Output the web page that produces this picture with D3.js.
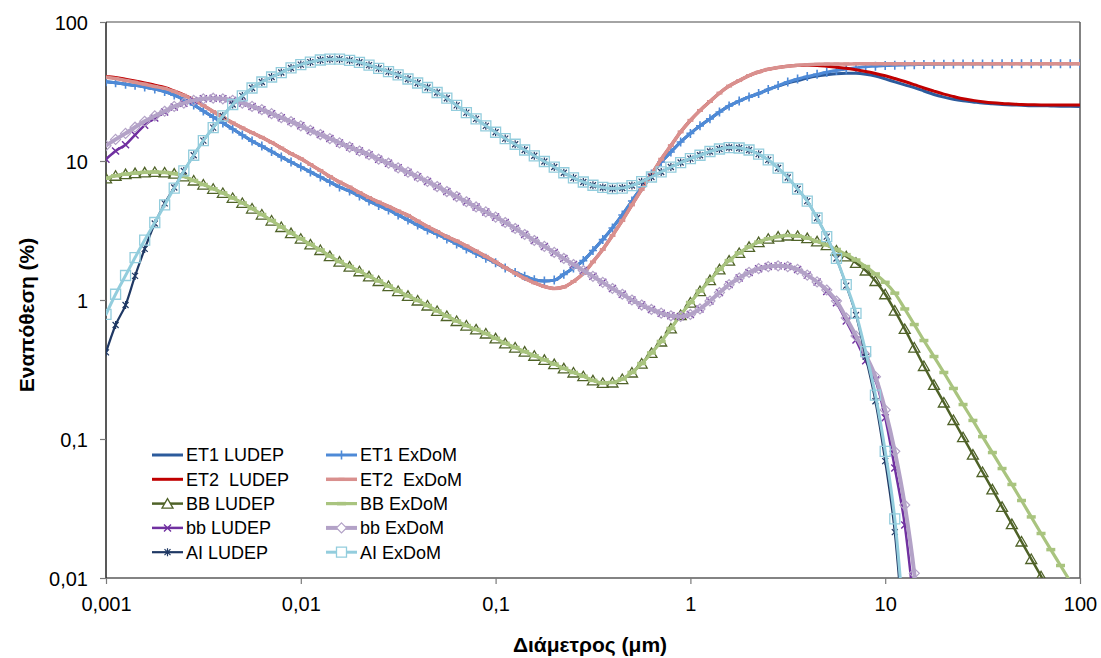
<!DOCTYPE html>
<html>
<head>
<meta charset="utf-8">
<script src="https://cdn.jsdelivr.net/npm/d3@7"></script>
<style>
  body { margin: 0; background: #ffffff; }
  text { font-family: "Liberation Sans", Arial, sans-serif; fill: #000; }
</style>
</head>
<body>
<svg id="chart" width="1101" height="658"></svg>
<script>
// Particle diameters (µm), 20 points per decade
const diameters = [
  1.00e-3, 1.12e-3, 1.26e-3, 1.41e-3, 1.58e-3, 1.78e-3, 2.00e-3, 2.24e-3, 2.51e-3, 2.82e-3,
  3.16e-3, 3.55e-3, 3.98e-3, 4.47e-3, 5.01e-3, 5.62e-3, 6.31e-3, 7.08e-3, 7.94e-3, 8.91e-3,
  1.00e-2, 1.12e-2, 1.26e-2, 1.41e-2, 1.58e-2, 1.78e-2, 2.00e-2, 2.24e-2, 2.51e-2, 2.82e-2,
  3.16e-2, 3.55e-2, 3.98e-2, 4.47e-2, 5.01e-2, 5.62e-2, 6.31e-2, 7.08e-2, 7.94e-2, 8.91e-2,
  1.00e-1, 1.12e-1, 1.26e-1, 1.41e-1, 1.58e-1, 1.78e-1, 2.00e-1, 2.24e-1, 2.51e-1, 2.82e-1,
  3.16e-1, 3.55e-1, 3.98e-1, 4.47e-1, 5.01e-1, 5.62e-1, 6.31e-1, 7.08e-1, 7.94e-1, 8.91e-1,
  1.00, 1.12, 1.26, 1.41, 1.58, 1.78, 2.00, 2.24, 2.51, 2.82,
  3.16, 3.55, 3.98, 4.47, 5.01, 5.62, 6.31, 7.08, 7.94, 8.91,
  10.0, 11.2, 12.6, 14.1, 15.8, 17.8, 20.0, 22.4, 25.1, 28.2,
  31.6, 35.5, 39.8, 44.7, 50.1, 56.2, 63.1, 70.8, 79.4, 89.1,
  100
];

// Regional deposition (%)
const et1Ludep = [
  37.2, 36.5, 35.7, 35.0, 34.1, 32.9, 31.6, 29.8, 27.7, 25.3,
  22.9, 20.7, 18.8, 17.0, 15.4, 13.9, 12.8, 11.7, 10.7, 9.84,
  9.05, 8.34, 7.67, 7.06, 6.50, 6.08, 5.60, 5.15, 4.79, 4.44,
  4.09, 3.76, 3.46, 3.19, 2.98, 2.75, 2.53, 2.33, 2.16, 2.00,
  1.85, 1.70, 1.58, 1.48, 1.40, 1.37, 1.39, 1.53, 1.70, 1.92,
  2.27, 2.72, 3.30, 4.09, 5.15, 6.50, 8.06, 9.84, 11.6, 13.7,
  15.8, 17.9, 20.1, 22.5, 24.9, 27.0, 28.9, 30.6, 32.7, 34.6,
  36.4, 37.9, 39.6, 40.9, 41.7, 42.4, 42.7, 42.7, 42.1, 40.9,
  39.0, 37.1, 35.3, 33.7, 31.9, 30.1, 28.8, 27.8, 27.1, 26.6,
  26.1, 25.8, 25.5, 25.3, 25.2, 25.0, 25.0, 24.9, 24.8, 24.8, 24.7
];
const et1Exdom = [
  37.2, 36.5, 35.7, 35.0, 34.1, 32.9, 31.6, 29.8, 27.7, 25.3,
  22.9, 20.7, 18.8, 17.0, 15.4, 13.9, 12.8, 11.7, 10.7, 9.84,
  9.05, 8.34, 7.67, 7.06, 6.50, 6.08, 5.60, 5.15, 4.79, 4.44,
  4.09, 3.76, 3.46, 3.19, 2.98, 2.75, 2.53, 2.33, 2.16, 2.00,
  1.85, 1.70, 1.58, 1.48, 1.40, 1.37, 1.39, 1.53, 1.70, 1.92,
  2.27, 2.72, 3.30, 4.09, 5.15, 6.50, 8.06, 9.84, 11.6, 13.7,
  15.8, 17.9, 20.1, 22.5, 24.9, 27.0, 28.9, 30.6, 32.7, 34.9,
  37.0, 38.9, 40.5, 42.0, 43.5, 44.8, 45.9, 46.8, 47.6, 48.1,
  48.6, 48.9, 49.1, 49.3, 49.5, 49.6, 49.7, 49.8, 49.8, 49.9,
  49.9, 49.9, 50.0, 50.0, 50.0, 50.0, 50.0, 50.0, 50.0, 50.0, 50.0
];
const et2Ludep = [
  40.6, 39.9, 38.8, 37.7, 36.5, 35.1, 33.8, 31.9, 29.9, 27.6,
  25.1, 22.7, 20.6, 18.8, 17.3, 16.0, 14.8, 13.6, 12.4, 11.3,
  10.4, 9.44, 8.55, 7.74, 7.06, 6.50, 5.93, 5.46, 5.07, 4.71,
  4.37, 4.06, 3.70, 3.38, 3.11, 2.86, 2.66, 2.45, 2.25, 2.06,
  1.88, 1.71, 1.56, 1.43, 1.33, 1.25, 1.21, 1.24, 1.36, 1.55,
  1.88, 2.31, 2.91, 3.73, 4.83, 6.24, 8.00, 10.3, 12.9, 16.2,
  19.6, 23.1, 26.8, 30.8, 34.6, 37.9, 41.2, 43.7, 45.7, 47.1,
  48.1, 48.6, 48.8, 48.6, 48.0, 47.3, 46.5, 45.3, 44.0, 42.6,
  41.0, 39.2, 37.3, 35.4, 33.5, 31.8, 30.3, 29.1, 28.0, 27.3,
  26.7, 26.2, 25.9, 25.7, 25.5, 25.4, 25.3, 25.3, 25.3, 25.3, 25.3
];
const et2Exdom = [
  40.0, 39.2, 38.0, 36.9, 35.7, 34.4, 33.3, 31.6, 29.7, 27.5,
  25.1, 22.7, 20.6, 18.8, 17.3, 16.0, 14.8, 13.6, 12.4, 11.3,
  10.4, 9.44, 8.55, 7.74, 7.06, 6.50, 5.93, 5.46, 5.07, 4.71,
  4.37, 4.06, 3.70, 3.38, 3.11, 2.86, 2.66, 2.45, 2.25, 2.06,
  1.88, 1.71, 1.56, 1.43, 1.33, 1.25, 1.21, 1.24, 1.36, 1.55,
  1.88, 2.31, 2.91, 3.73, 4.83, 6.24, 8.00, 10.3, 12.9, 16.2,
  19.6, 23.1, 26.8, 30.8, 34.6, 37.9, 41.2, 43.7, 45.7, 47.1,
  48.1, 48.9, 49.3, 49.6, 49.8, 49.9, 49.9, 50.0, 50.0, 50.0,
  50.0, 50.0, 50.0, 50.0, 50.0, 50.0, 50.0, 50.0, 50.0, 50.0,
  50.0, 50.0, 50.0, 50.0, 50.0, 50.0, 50.0, 50.0, 50.0, 50.0, 50.0
];
const bbLudep = [
  7.51, 7.83, 8.04, 8.18, 8.29, 8.34, 8.27, 8.12, 7.74, 7.24,
  6.77, 6.31, 5.89, 5.42, 4.99, 4.55, 4.12, 3.73, 3.35, 3.03,
  2.76, 2.51, 2.29, 2.07, 1.89, 1.74, 1.61, 1.48, 1.37, 1.26,
  1.16, 1.07, 0.992, 0.913, 0.834, 0.767, 0.706, 0.655, 0.614, 0.574,
  0.530, 0.488, 0.455, 0.425, 0.397, 0.371, 0.346, 0.322, 0.301, 0.283,
  0.264, 0.253, 0.255, 0.270, 0.301, 0.349, 0.416, 0.503, 0.624, 0.780,
  0.959, 1.16, 1.39, 1.66, 1.92, 2.18, 2.41, 2.61, 2.76, 2.86,
  2.91, 2.89, 2.79, 2.64, 2.48, 2.27, 2.06, 1.85, 1.63, 1.37,
  1.10, 0.840, 0.619, 0.455, 0.335, 0.245, 0.183, 0.137, 0.103, 0.0772,
  0.0579, 0.0434, 0.0325, 0.0244, 0.0183, 0.0137, 0.0103, 0.0077, 0.0058, 0.0043, 0.0032
];
const bbExdom = [
  7.51, 7.83, 8.04, 8.18, 8.29, 8.34, 8.27, 8.12, 7.74, 7.24,
  6.77, 6.31, 5.89, 5.42, 4.99, 4.55, 4.12, 3.73, 3.35, 3.03,
  2.76, 2.51, 2.29, 2.07, 1.89, 1.74, 1.61, 1.48, 1.37, 1.26,
  1.16, 1.07, 0.992, 0.913, 0.834, 0.767, 0.706, 0.655, 0.614, 0.574,
  0.530, 0.488, 0.455, 0.425, 0.397, 0.371, 0.346, 0.322, 0.301, 0.283,
  0.264, 0.253, 0.255, 0.270, 0.301, 0.349, 0.416, 0.503, 0.624, 0.780,
  0.959, 1.16, 1.39, 1.66, 1.92, 2.18, 2.41, 2.61, 2.76, 2.86,
  2.91, 2.89, 2.79, 2.64, 2.49, 2.31, 2.12, 1.94, 1.74, 1.54,
  1.34, 1.12, 0.862, 0.666, 0.511, 0.392, 0.301, 0.231, 0.177, 0.136,
  0.104, 0.0799, 0.0613, 0.0471, 0.0361, 0.0275, 0.0209, 0.0160, 0.0123, 0.00944, 0.00724
];
const bbSmallLudep = [
  10.3, 11.8, 13.1, 15.4, 18.1, 20.4, 22.5, 24.5, 26.0, 27.2,
  28.0, 28.3, 28.0, 27.3, 26.1, 24.7, 23.4, 21.9, 20.5, 19.2,
  17.9, 16.6, 15.5, 14.5, 13.5, 12.6, 11.8, 11.1, 10.3, 9.64,
  8.93, 8.31, 7.71, 7.12, 6.55, 6.03, 5.55, 5.09, 4.67, 4.30,
  3.95, 3.61, 3.27, 2.96, 2.68, 2.43, 2.20, 1.99, 1.80, 1.63,
  1.48, 1.34, 1.21, 1.10, 1.00, 0.920, 0.855, 0.804, 0.770, 0.761,
  0.787, 0.862, 0.984, 1.13, 1.29, 1.44, 1.58, 1.68, 1.74, 1.76,
  1.74, 1.66, 1.51, 1.35, 1.15, 0.955, 0.705, 0.515, 0.365, 0.266,
  0.142, 0.0618, 0.0241, 0.006, null, null, null, null, null, null,
  null, null, null, null, null, null, null, null, null, null, null
];
const bbSmallExdom = [
  12.9, 14.3, 15.8, 17.5, 19.3, 21.1, 22.8, 24.7, 26.1, 27.3,
  28.0, 28.3, 28.0, 27.3, 26.1, 24.7, 23.4, 21.9, 20.5, 19.2,
  17.9, 16.6, 15.5, 14.5, 13.5, 12.6, 11.8, 11.1, 10.3, 9.64,
  8.93, 8.31, 7.71, 7.12, 6.55, 6.03, 5.55, 5.09, 4.67, 4.30,
  3.95, 3.61, 3.27, 2.96, 2.68, 2.43, 2.20, 1.99, 1.80, 1.63,
  1.48, 1.34, 1.21, 1.10, 1.00, 0.920, 0.855, 0.804, 0.770, 0.761,
  0.787, 0.862, 0.984, 1.13, 1.29, 1.44, 1.58, 1.68, 1.74, 1.76,
  1.74, 1.66, 1.51, 1.35, 1.18, 0.984, 0.742, 0.551, 0.402, 0.281,
  0.162, 0.0815, 0.0335, 0.0108, 0.002, null, null, null, null, null,
  null, null, null, null, null, null, null, null, null, null, null
];
const aiLudep = [
  0.420, 0.661, 0.920, 1.49, 2.33, 3.55, 4.95, 6.45, 8.48, 11.0,
  14.0, 17.4, 21.1, 25.5, 29.4, 33.5, 37.0, 40.2, 43.3, 46.7,
  49.4, 51.5, 53.3, 54.0, 54.0, 53.0, 51.3, 48.9, 46.4, 44.0,
  41.6, 38.9, 36.4, 33.8, 31.1, 28.3, 25.1, 22.3, 20.1, 17.9,
  16.1, 14.5, 13.2, 12.0, 10.9, 9.92, 9.05, 8.23, 7.57, 7.06,
  6.69, 6.45, 6.34, 6.39, 6.66, 7.10, 7.67, 8.34, 9.05, 9.75,
  10.4, 11.0, 11.7, 12.2, 12.5, 12.4, 12.0, 11.2, 10.2, 8.90,
  7.61, 6.29, 5.15, 3.89, 2.86, 1.99, 1.27, 0.780, 0.390, 0.187,
  0.0694, 0.0214, 0.003, null, null, null, null, null, null, null,
  null, null, null, null, null, null, null, null, null, null, null
];
const aiExdom = [
  0.789, 1.10, 1.50, 2.02, 2.70, 3.61, 4.83, 6.39, 8.48, 11.0,
  14.0, 17.4, 21.1, 25.5, 29.4, 33.5, 37.0, 40.2, 43.3, 46.7,
  49.4, 51.5, 53.3, 54.0, 54.0, 53.0, 51.3, 48.9, 46.4, 44.0,
  41.6, 38.9, 36.4, 33.8, 31.1, 28.3, 25.1, 22.3, 20.1, 17.9,
  16.1, 14.5, 13.2, 12.0, 10.9, 9.92, 9.05, 8.23, 7.57, 7.06,
  6.69, 6.45, 6.34, 6.39, 6.66, 7.10, 7.67, 8.34, 9.05, 9.75,
  10.4, 11.0, 11.7, 12.2, 12.5, 12.4, 12.0, 11.2, 10.2, 8.90,
  7.61, 6.29, 5.15, 3.89, 2.86, 1.99, 1.29, 0.802, 0.425, 0.207,
  0.0815, 0.0266, 0.004, null, null, null, null, null, null, null,
  null, null, null, null, null, null, null, null, null, null, null
];

// Axis ticks
const xTicks = [0.001, 0.01, 0.1, 1, 10, 100];
const xTickLabels = ["0,001", "0,01", "0,1", "1", "10", "100"];
const yTicks = [0.01, 0.1, 1, 10, 100];
const yTickLabels = ["0,01", "0,1", "1", "10", "100"];

const series = [
  { name: "ET1 LUDEP",  values: et1Ludep,     color: "#2C5B9C", width: 3,   marker: null },
  { name: "ET1 ExDoM",  values: et1Exdom,     color: "#4E8AD7", width: 3,   marker: "plus" },
  { name: "ET2  LUDEP", values: et2Ludep,     color: "#C00000", width: 3,   marker: null },
  { name: "ET2  ExDoM", values: et2Exdom,     color: "#D9908E", width: 3.5, marker: "tick" },
  { name: "BB LUDEP",   values: bbLudep,      color: "#4F6228", width: 2.5, marker: "triangle" },
  { name: "BB ExDoM",   values: bbExdom,      color: "#A9C47F", width: 3.2, marker: "dash" },
  { name: "bb LUDEP",   values: bbSmallLudep, color: "#7030A0", width: 2.5, marker: "cross" },
  { name: "bb ExDoM",   values: bbSmallExdom, color: "#B3A2C7", width: 4,   marker: "diamond" },
  { name: "AI LUDEP",   values: aiLudep,      color: "#1F3864", width: 2.2, marker: "star" },
  { name: "AI ExDoM",   values: aiExdom,      color: "#93CDDD", width: 3,   marker: "square" }
];

const markerShapes = {
  plus:     { d: "M-4,0H4M0,-4.5V4.5", sw: 1.6 },
  tick:     { d: "M-3,0H3", sw: 3 },
  triangle: { d: "M0,-5L5.5,4.5L-5.5,4.5Z", sw: 1.3 },
  dash:     { d: "M-4.5,0H4.5", sw: 3.5 },
  cross:    { d: "M-3.5,-3.5L3.5,3.5M-3.5,3.5L3.5,-3.5", sw: 1.4 },
  diamond:  { d: "M0,-5L5,0L0,5L-5,0Z", sw: 1.2 },
  star:     { d: "M-3,-3L3,3M-3,3L3,-3M0,-4V4", sw: 1.2 },
  square:   { d: "M-5,-5H5V5H-5Z", sw: 1.3 }
};

(function draw() {
  const svg = d3.select("#chart");
  const plotLeft = 106, plotRight = 1080, plotTop = 22, plotBottom = 578;

  const x = d3.scaleLog().domain([0.001, 100]).range([plotLeft, plotRight]);
  const y = d3.scaleLog().domain([0.01, 100]).range([plotBottom, plotTop]);

  svg.append("defs").append("clipPath").attr("id", "plotClip")
    .append("rect").attr("x", plotLeft).attr("y", plotTop)
    .attr("width", plotRight - plotLeft).attr("height", plotBottom - plotTop);

  // Plot frame
  svg.append("line").attr("x1", plotLeft).attr("x2", plotRight).attr("y1", plotTop).attr("y2", plotTop)
    .attr("stroke", "#868686").attr("stroke-width", 1.5);
  svg.append("line").attr("x1", plotRight).attr("x2", plotRight).attr("y1", plotTop).attr("y2", plotBottom)
    .attr("stroke", "#5a5a5a").attr("stroke-width", 1.5);

  // Axes
  const xAxis = d3.axisBottom(x).tickValues(xTicks).tickSize(6).tickFormat((d, i) => xTickLabels[i]);
  const yAxis = d3.axisLeft(y).tickValues(yTicks).tickSize(6).tickFormat((d, i) => yTickLabels[i]);

  const gx = svg.append("g").attr("transform", `translate(0,${plotBottom})`).call(xAxis);
  gx.select(".domain").attr("stroke", "#5a5a5a").attr("stroke-width", 1.5).attr("d", `M${plotLeft},0H${plotRight}`);
  gx.selectAll(".tick line").attr("stroke", "#7a7a7a").attr("stroke-width", 1.2);
  gx.selectAll(".tick text").attr("font-size", 20).attr("font-family", "Liberation Sans, Arial, sans-serif")
    .attr("fill", "#000").attr("y", 19).attr("dy", "0.71em");

  const gy = svg.append("g").attr("transform", `translate(${plotLeft},0)`).call(yAxis);
  gy.select(".domain").attr("stroke", "#222").attr("stroke-width", 1.5).attr("d", `M0,${plotBottom}V${plotTop}`);
  gy.selectAll(".tick line").attr("stroke", "#7a7a7a").attr("stroke-width", 1.2);
  gy.selectAll(".tick text").attr("font-size", 20).attr("font-family", "Liberation Sans, Arial, sans-serif")
    .attr("fill", "#000").attr("x", -18).attr("dy", "0.36em");

  // Axis titles
  svg.append("text").attr("x", 590).attr("y", 652).attr("text-anchor", "middle")
    .attr("font-size", 21).attr("font-weight", "bold").text("Διάμετρος (μm)");
  svg.append("text").attr("transform", "translate(34,315) rotate(-90)").attr("text-anchor", "middle")
    .attr("font-size", 21).attr("font-weight", "bold").text("Εναπόθεση (%)");

  // Curves and markers
  const plot = svg.append("g").attr("clip-path", "url(#plotClip)");
  const line = d3.line()
    .defined(d => d.v != null)
    .x(d => x(d.d))
    .y(d => y(d.v))
    .curve(d3.curveMonotoneX);

  series.forEach(s => {
    const pts = diameters.map((d, i) => ({ d: d, v: s.values[i] }));
    plot.append("path").datum(pts)
      .attr("d", line).attr("fill", "none")
      .attr("stroke", s.color).attr("stroke-width", s.width)
      .attr("stroke-linejoin", "round").attr("stroke-linecap", "round");
    if (s.marker) {
      const m = markerShapes[s.marker];
      plot.selectAll(null).data(pts.filter(p => p.v != null))
        .enter().append("path")
        .attr("transform", p => `translate(${x(p.d)},${y(p.v)})`)
        .attr("d", m.d).attr("fill", "none")
        .attr("stroke", s.color).attr("stroke-width", m.sw);
    }
  });

  // Legend: two columns, LUDEP on the left, ExDoM on the right
  const legend = svg.append("g");
  series.forEach((s, i) => {
    const col = i % 2, row = Math.floor(i / 2);
    const lx = col === 0 ? 152 : 326;
    const ly = 455 + row * 24.3;
    const g = legend.append("g").attr("transform", `translate(${lx},${ly})`);
    g.append("line").attr("x1", 0).attr("x2", 31).attr("y1", 0).attr("y2", 0)
      .attr("stroke", s.color).attr("stroke-width", s.width);
    if (s.marker) {
      const m = markerShapes[s.marker];
      const closed = s.marker === "triangle" || s.marker === "diamond" || s.marker === "square";
      g.append("path").attr("transform", "translate(15.5,0)").attr("d", m.d)
        .attr("fill", closed ? "#fff" : "none")
        .attr("stroke", s.color).attr("stroke-width", m.sw);
    }
    g.append("text").attr("x", 34).attr("y", 0).attr("dy", "0.36em")
      .attr("font-size", 18).style("white-space", "pre").text(s.name);
  });
})();
</script>
</body>
</html>
